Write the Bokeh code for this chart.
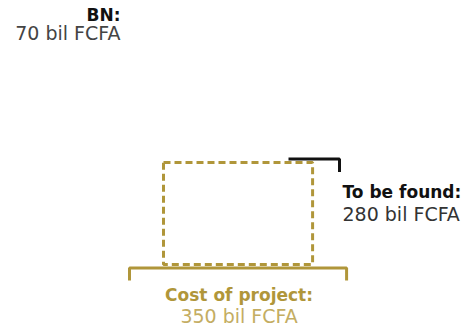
import math
from bokeh.plotting import figure
from bokeh.models import Range1d
from bokeh.core.properties import value
from bokeh.embed import file_html
from bokeh.resources import INLINE

# ---- data ----
categories = ["BN", "To be found", "Cost of project"]
amounts = [70, 280, 350]
unit = "bil FCFA"

# ---- style / layout ----
GOLD = "#b0963a"
GOLD_LIGHT = "#c4ad62"
BLACK = "#111111"
GREY = "#444444"
FONT = "DejaVu Sans"
FS_HEAD = "17px"
FS_SUB = "19px"

W, H = 462, 327
p = figure(width=W, height=H, output_backend="svg", toolbar_location=None,
           x_range=Range1d(0, W), y_range=Range1d(H, 0),
           min_border=0, min_border_left=0, min_border_right=0,
           min_border_top=0, min_border_bottom=0)
p.axis.visible = False
p.grid.visible = False
p.outline_line_color = None
p.background_fill_color = "white"
p.border_fill_color = "white"

# area scale for the project rectangle (px^2 per bil), aspect ratio
px2_per_unit = 43.5
aspect = 1.46
total = amounts[2]
rw = math.sqrt(total * px2_per_unit * aspect)
rh = math.sqrt(total * px2_per_unit / aspect)
left, bottom = 163, 264
cx = left + rw / 2
cy = bottom - rh / 2

# dashed project rectangle
p.rect(x=[cx], y=[cy], width=[rw], height=[rh], fill_color=None,
       line_color=GOLD, line_width=3, line_dash="7 4")

# bracket under project
pad = 34
bx0, bx1 = cx - rw / 2 - pad, cx + rw / 2 + pad
by, btick = 267.5, 12.5
p.multi_line(xs=[[bx0, bx0, bx1, bx1]], ys=[[by + btick, by, by, by + btick]],
             line_color=GOLD, line_width=3)

# black bracket top-right (to be found)
tx0, tx1, ty = 288, 339, 158.5
p.multi_line(xs=[[tx0, tx1, tx1]], ys=[[ty, ty, ty + 13]],
             line_color=BLACK, line_width=3)

# labels
heads = [c + ":" for c in categories]
subs = [f"{a} {unit}" for a in amounts]
lab_x = [120, 342, cx + 1]
head_y = [14.5, 191.5, 294.5]
sub_y = [32.5, 213.5, 315.5]
aligns = ["right", "left", "center"]
head_cols = [BLACK, BLACK, GOLD]
sub_cols = [GREY, "#333333", GOLD_LIGHT]

for i in range(len(categories)):
    p.text(x=[lab_x[i]], y=[head_y[i]], text=[heads[i]], text_align=aligns[i],
           text_baseline="alphabetic", text_font=value(FONT), text_font_size=FS_HEAD,
           text_font_style="bold", text_color=head_cols[i])
    p.text(x=[lab_x[i]], y=[sub_y[i]], text=[subs[i]], text_align=aligns[i],
           text_baseline="alphabetic", text_font=value(FONT), text_font_size=FS_SUB,
           text_color=sub_cols[i])

open("out.html", "w").write(file_html(p, INLINE))
